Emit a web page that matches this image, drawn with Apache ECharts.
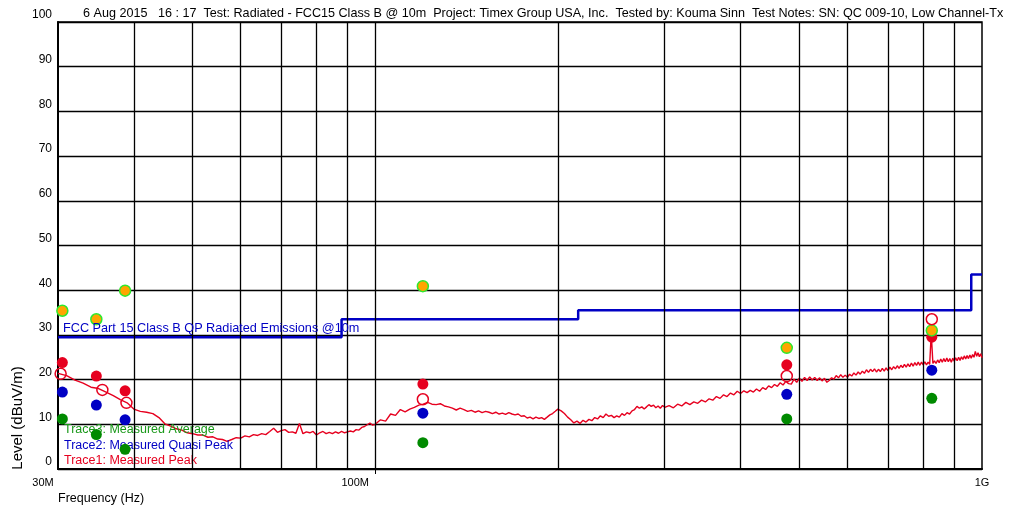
<!DOCTYPE html>
<html>
<head>
<meta charset="utf-8">
<script src="https://cdn.jsdelivr.net/npm/echarts@6/dist/echarts.min.js"></script>
<style>
html,body{margin:0;padding:0;background:#fff;}
#chart{width:1023px;height:508px;}
</style>
</head>
<body>
<div id="chart"></div>
<script>
// ---- Data (frequency in MHz, level in dBuV/m) ----
const titleText = '6 Aug 2015   16 : 17  Test: Radiated - FCC15 Class B @ 10m  Project: Timex Group USA, Inc.  Tested by: Kouma Sinn  Test Notes: SN: QC 009-10, Low Channel-Tx';
const yTicks = [0, 10, 20, 30, 40, 50, 60, 70, 80, 90, 100];
const xLabelValues = [30, 100, 1000];
const xLabelTexts = ['30M', '100M', '1G'];
const xGridFreqs = [40, 50, 60, 70, 80, 90, 100, 200, 300, 400, 500, 600, 700, 800, 900];

const limitName = 'FCC Part 15 Class B QP Radiated Emissions @10m';
const limitLine = [[30, 29.5], [88, 29.5], [88, 33.5], [216, 33.5], [216, 35.5], [960, 35.5], [960, 43.5], [1000, 43.5]];

const markerFreqs = [30.5, 34.7, 38.7, 119.8, 476.7, 826.5];
const hollowFreqs = [30.3, 35.5, 38.9, 119.8, 476.7, 826.5];
const orangeLevels = [35.4, 33.5, 39.9, 40.9, 27.1, 31.0];
const peakLevels = [23.8, 20.8, 17.5, 19.0, 23.3, 29.5];
const hollowLevels = [21.3, 17.7, 14.8, 15.6, 20.8, 33.5];
const qpLevels = [17.2, 14.3, 11.0, 12.5, 16.7, 22.1];
const avgLevels = [11.2, 7.7, 4.4, 5.9, 11.2, 15.8];

const trace1Peak = [
[30,21.4],[31,20.9],[32,19.9],[33,19.2],[34,18.3],[35,18.0],[36,17.2],[37,16.4],[38,15.5],[39,14.8],
[40,13.4],[41,12.9],[42,12.7],[43,12.4],[44,11.5],[45,10.1],[46,9.6],[47,9.0],[48,8.7],[49,8.1],
[50,7.9],[51,7.6],[52,7.6],[53,7.1],[54,7.2],[55,6.7],[56,6.6],[57,6.2],[58,6.6],[59,7.0],
[60,6.9],[61,7.4],[62,7.2],[63,7.7],[64,7.5],[65,7.9],[66,7.7],[67,8.4],[68,9.1],[69,8.2],
[70,8.6],[71,8.8],[72,8.2],[73,8.3],[74,8.0],[75,10.2],[76,7.9],[77,8.3],[78,8.1],[79,8.4],
[80,7.6],[81,8.1],[82,8.4],[83,7.9],[84,8.2],[85,7.9],[86,8.3],[87,8.0],[88,8.4],[89,8.1],
[90,8.3],[91,8.5],[92,8.3],[93,8.8],[94,8.7],[95,9.3],[96,9.5],[97,9.9],[98,10.3],[99,9.8],
[100,10.0],[102,11.0],[104,10.7],[106,12.3],[108,12.0],[110,13.3],[112,12.8],[114,13.4],[116,13.8],[118,14.3],
[120,14.5],[122,14.9],[124,14.5],[126,14.4],[128,14.6],[130,14.1],[132,13.9],[134,13.6],[136,13.2],[138,13.6],
[140,13.3],[142,12.9],[144,13.1],[146,12.7],[148,13.0],[150,12.6],[152,12.9],[154,12.7],[156,12.4],[158,12.7],
[160,12.3],[162,12.5],[164,12.2],[166,12.6],[168,12.3],[170,12.1],[172,12.3],[174,11.8],[176,11.9],[178,11.4],
[180,11.6],[182,11.2],[184,11.6],[186,11.3],[188,11.5],[190,11.1],[192,11.6],[194,12.1],[196,12.4],[198,12.9],
[200,13.4],[202.5,13.0],[205,12.4],[207.5,11.6],[210,11.0],[212.5,10.3],[215,10.7],[217.5,10.2],[220,10.9],[222.5,10.5],
[225,11.1],[227.5,10.8],[230,11.5],[232.5,11.2],[235,11.9],[237.5,11.5],[240,12.3],[242.5,11.8],[245,12.0],[247.5,11.5],
[250,11.9],[252.5,11.6],[255,12.4],[257.5,12.0],[260,12.6],[262.5,12.3],[265,13.0],[267.5,13.3],[270,14.0],[272.5,13.6],
[275,13.9],[277.5,13.4],[280,13.9],[282.5,14.4],[285,14.0],[287.5,14.3],[290,13.7],[292.5,14.1],[295,13.6],[297.5,14.2],
[300,13.8],[305,14.2],[310,13.7],[315,14.5],[320,14.1],[325,14.9],[330,14.4],[335,15.0],[340,14.7],[345,15.4],
[350,15.0],[355,15.7],[360,15.4],[365,16.2],[370,15.8],[375,16.6],[380,16.2],[385,17.0],[390,16.6],[395,17.4],
[400,16.9],[405,17.5],[410,17.1],[415,17.6],[420,17.2],[425,17.9],[430,17.4],[435,18.2],[440,17.8],[445,18.6],
[450,18.2],[455,18.9],[460,18.5],[465,19.3],[470,18.8],[475,19.6],[480,19.1],[485,19.0],[490,20.1],[495,19.4],
[500,20.3],[505,19.6],[510,20.5],[515,19.8],[520,20.6],[525,19.9],[530,20.5],[535,19.8],[540,20.4],[545,19.7],
[550,20.3],[555,19.4],[560,19.8],[565,20.4],[570,20.1],[575,20.9],[580,20.4],[585,21.1],[590,20.5],[595,21.0],
[600,20.5],[605,21.2],[610,20.8],[615,21.5],[620,21.0],[625,21.7],[630,21.2],[635,21.9],[640,21.4],[645,22.2],
[650,21.6],[655,22.3],[660,21.8],[665,22.4],[670,21.7],[675,22.3],[680,21.8],[685,22.5],[690,21.9],[695,22.6],
[700,22.0],[705,22.8],[710,22.2],[715,22.9],[720,22.4],[725,23.1],[730,22.5],[735,23.2],[740,22.7],[745,23.4],
[750,22.8],[755,23.5],[760,22.9],[765,23.7],[770,23.0],[775,23.8],[780,23.2],[785,23.9],[790,23.2],[795,23.9],
[800,23.3],[805,24.0],[810,23.3],[815,23.9],[820,23.4],[824,29.3],[826,28.8],[830,23.6],[835,24.2],[840,23.6],
[845,24.4],[850,23.8],[855,24.6],[860,23.9],[865,24.7],[870,24.0],[875,24.8],[880,24.0],[885,24.7],[890,23.9],
[895,24.8],[900,24.1],[905,24.9],[910,24.2],[915,25.0],[920,24.3],[925,25.1],[930,24.5],[935,25.3],[940,24.6],
[945,25.4],[950,24.7],[955,25.5],[960,24.8],[965,25.6],[970,25.0],[975,26.3],[980,25.2],[985,26.0],[990,25.1],
[995,25.8],[1000,24.9]
];

// ---- Styles ----
const FONT = '"Liberation Sans", Arial, sans-serif';
const RED = '#e6001f';
const BLUE = '#0000c4';
const GREEN = '#008a00';
const pair = (fs, vs) => fs.map((f, i) => [f, vs[i]]);

const chart = echarts.init(document.getElementById('chart'), null, {renderer: 'canvas'});
chart.setOption({
  animation: false,
  backgroundColor: '#fff',
  title: {
    text: titleText, left: 83, top: 7, padding: 0,
    textStyle: {fontSize: 12.6, fontWeight: 'normal', color: '#000', fontFamily: FONT}
  },
  legend: {
    orient: 'vertical', left: 58, top: 423, padding: 0,
    itemWidth: 0, itemHeight: 0, itemGap: 1.5, selectedMode: false,
    textStyle: {fontSize: 12.5, fontFamily: FONT, lineHeight: 14},
    data: [
      {name: 'Trace3: Measured Average', textStyle: {color: '#189818'}},
      {name: 'Trace2: Measured Quasi Peak', textStyle: {color: BLUE}},
      {name: 'Trace1: Measured Peak', textStyle: {color: RED}}
    ]
  },
  grid: {left: 58, right: 41, top: 22, bottom: 39, show: true, borderColor: '#000', borderWidth: 1.5, backgroundColor: '#fff'},
  xAxis: {
    type: 'log', logBase: 10, min: 30, max: 1000,
    axisLine: {show: true, lineStyle: {color: '#000', width: 2}},
    axisTick: {show: true, customValues: [100], length: 5, lineStyle: {color: '#000'}},
    splitLine: {show: false},
    minorTick: {show: false},
    axisLabel: {
      customValues: xLabelValues, margin: 8, color: '#000', fontSize: 11, fontFamily: FONT,
      formatter: function (v) {
        const i = xLabelValues.indexOf(Math.round(v));
        const t = i >= 0 ? xLabelTexts[i] : '';
        if (i === 0) return '{a|' + t + '}';
        if (i === 1) return '{b|' + t + '}';
        return t;
      },
      rich: {
        a: {padding: [0, 30, 0, 0], fontSize: 11, fontFamily: FONT, color: '#000'},
        b: {padding: [0, 40, 0, 0], fontSize: 11, fontFamily: FONT, color: '#000'}
      }
    }
  },
  yAxis: {
    type: 'value', min: yTicks[0], max: yTicks[yTicks.length - 1], interval: 10,
    axisLine: {show: true, lineStyle: {color: '#000', width: 2}},
    axisTick: {show: false},
    splitLine: {show: true, lineStyle: {color: '#000', width: 1.3}},
    axisLabel: {color: '#000', fontSize: 12, fontFamily: FONT, margin: 6, verticalAlign: 'bottom', padding: [0, 0, 1, 0]}
  },
  graphic: [
    {type: 'text', x: 63, y: 328, z: 50, style: {text: limitName, fill: BLUE, font: '12.7px ' + FONT, verticalAlign: 'middle'}},
    {type: 'text', x: 18, y: 418, rotation: Math.PI / 2, style: {text: 'Level (dBuV/m)', fill: '#000', font: '15px ' + FONT, align: 'center', verticalAlign: 'middle'}},
    {type: 'text', x: 58, y: 499, style: {text: 'Frequency (Hz)', fill: '#000', font: '12.5px ' + FONT, verticalAlign: 'middle'}}
  ],
  series: [
    {
      name: 'grid', type: 'line', data: [], silent: true, z: 1,
      markLine: {
        silent: true, symbol: ['none', 'none'], label: {show: false},
        lineStyle: {color: '#000', type: 'solid', width: 1.3},
        data: xGridFreqs.map(f => ({xAxis: f}))
      }
    },
    {
      name: 'Trace1: Measured Peak', type: 'line', data: trace1Peak, showSymbol: false, z: 3,
      lineStyle: {color: RED, width: 1.4}, itemStyle: {color: RED}
    },
    {
      name: limitName, type: 'line', data: limitLine, showSymbol: false, z: 4,
      lineStyle: {color: BLUE, width: 2.5}, itemStyle: {color: BLUE}
    },
    {
      name: 'Trace3: Measured Average', type: 'scatter', data: pair(markerFreqs, avgLevels), symbolSize: 11, z: 6,
      itemStyle: {color: GREEN, opacity: 1}
    },
    {
      name: 'Trace2: Measured Quasi Peak', type: 'scatter', data: pair(markerFreqs, qpLevels), symbolSize: 11, z: 6,
      itemStyle: {color: BLUE, opacity: 1}
    },
    {
      name: 'Trace1: Measured Peak', type: 'scatter', data: pair(markerFreqs, peakLevels), symbolSize: 11, z: 6,
      itemStyle: {color: RED, opacity: 1}
    },
    {
      name: 'Limit markers', type: 'scatter', data: pair(markerFreqs, orangeLevels), symbolSize: 11, z: 7,
      itemStyle: {color: '#ffa500', borderColor: '#2ee82e', borderWidth: 1.5, opacity: 1}
    },
    {
      name: 'Trace1 markers', type: 'scatter', data: pair(hollowFreqs, hollowLevels), symbolSize: 11, z: 8,
      itemStyle: {color: 'rgba(255,255,255,0)', borderColor: RED, borderWidth: 1.5, opacity: 1}
    }
  ]
});
</script>
</body>
</html>
